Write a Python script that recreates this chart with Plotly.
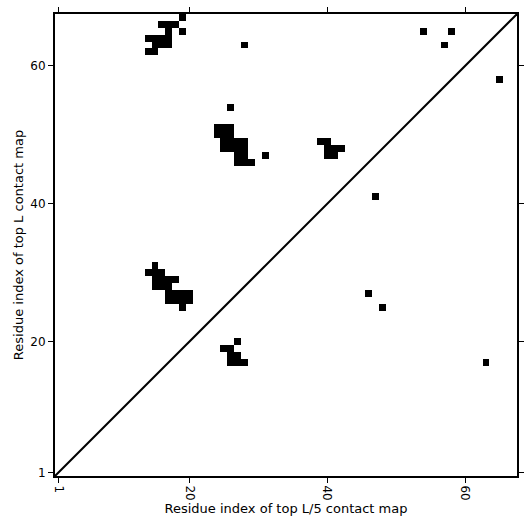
import plotly.graph_objects as go

L = 67
# contact cells (residue i on x, residue j on y)
contact_x = [19, 16, 17, 18, 17, 19, 14, 15, 16, 17, 15, 16, 17, 14, 15, 28,
             26, 24, 25, 26, 24, 25, 26, 25, 26, 27, 28, 25, 26, 27, 28, 27, 28, 31, 27, 28, 29,
             39, 40, 40, 41, 42, 40, 41,
             15, 14, 15, 16, 15, 16, 17, 18, 15, 16, 17, 17, 18, 19, 20, 17, 18, 19, 20, 19,
             27, 25, 26, 26, 27, 26, 27, 28,
             54, 58, 57, 65, 47, 46, 48, 63]
contact_y = [67, 66, 66, 66, 65, 65, 64, 64, 64, 64, 63, 63, 63, 62, 62, 63,
             54, 51, 51, 51, 50, 50, 50, 49, 49, 49, 49, 48, 48, 48, 48, 47, 47, 47, 46, 46, 46,
             49, 49, 48, 48, 48, 47, 47,
             31, 30, 30, 30, 29, 29, 29, 29, 28, 28, 28, 27, 27, 27, 27, 26, 26, 26, 26, 25,
             20, 19, 19, 18, 18, 17, 17, 17,
             65, 65, 63, 58, 41, 27, 25, 17]
tick_vals = [1, 20, 40, 60]

residues = list(range(1, L + 1))
z = [[None] * L for _ in range(L)]
for xi, yi in zip(contact_x, contact_y):
    z[yi - 1][xi - 1] = 1

fig = go.Figure()
fig.add_trace(go.Heatmap(x=residues, y=residues, z=z,
                         colorscale=[[0, "black"], [1, "black"]],
                         showscale=False, hoverongaps=False))
lo, hi = 0.5, L + 0.5
fig.add_trace(go.Scatter(x=[lo, hi], y=[lo, hi], mode="lines",
                         line=dict(color="black", width=2), showlegend=False))

axis_common = dict(range=[lo, hi], tickvals=tick_vals, ticks="outside", ticklen=5,
                   tickwidth=1, tickcolor="black", showline=True, linecolor="black",
                   linewidth=2, mirror="ticks", showgrid=False, zeroline=False,
                   automargin=False,
                   tickfont=dict(family="DejaVu Sans", size=12, color="black"))
fig.update_xaxes(**axis_common, tickangle=90,
                 title=dict(text="Residue index of top L/5 contact map", standoff=3,
                            font=dict(family="DejaVu Sans", size=13, color="black")))
fig.update_yaxes(**axis_common,
                 title=dict(text="Residue index of top L contact map", standoff=4,
                            font=dict(family="DejaVu Sans", size=13, color="black")))
fig.update_layout(width=531, height=531, plot_bgcolor="white", paper_bgcolor="white",
                  margin=dict(l=55, r=14, t=14, b=55), showlegend=False,
                  font=dict(family="DejaVu Sans"))
fig.write_html("out.html", config={"displayModeBar": False},
               post_script="document.body.style.margin='0';")
